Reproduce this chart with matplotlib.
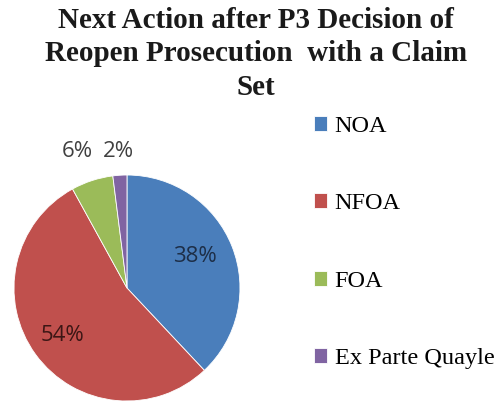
import matplotlib
matplotlib.use("Agg")
import matplotlib.pyplot as plt

# chart data
labels = ["NOA", "NFOA", "FOA", "Ex Parte Quayle"]
shares = [38, 54, 6, 2]
colors = ["#4A7EBB", "#C0504D", "#9BBB59", "#8064A2"]
title = "Next Action after P3 Decision of\nReopen Prosecution  with a Claim\nSet"

# where excel put the data labels (pie radius units)
label_pos = [(0.60, 0.28), (-0.575, -0.416), (-0.44, 1.21), (-0.08, 1.21)]
label_col = ["#1d2e47", "#3b1615", "#404040", "#404040"]

fig = plt.figure(figsize=(5.03, 4.04), dpi=100)
ax = fig.add_axes([0.0278, 0.0074, 0.4493, 0.5594])

wedges, _ = ax.pie(shares, colors=colors, startangle=90, counterclock=False,
                   wedgeprops=dict(edgecolor="white", linewidth=0.6))
ax.set_xlim(-1, 1)
ax.set_ylim(-1, 1)

for (x, y), v, c in zip(label_pos, shares, label_col):
    ax.text(x, y, f"{v}%", ha="center", va="center", fontsize=16,
            family="Open Sans", color=c)

fig.text(0.509, 1 - 7 / 404, title, ha="center", va="top", fontsize=21,
         family="Liberation Serif", fontweight="bold", linespacing=1.3,
         color="#1a1a1a")

fig.legend(wedges, labels, loc="upper left",
           bbox_to_anchor=(314 / 503, 1 - 116 / 404),
           frameon=False, borderpad=0, borderaxespad=0,
           handlelength=0.55, handleheight=0.55, handletextpad=0.3,
           labelspacing=2.32,
           prop=dict(family="Liberation Serif", size=17.5))

fig.savefig("out.png", dpi=100)
